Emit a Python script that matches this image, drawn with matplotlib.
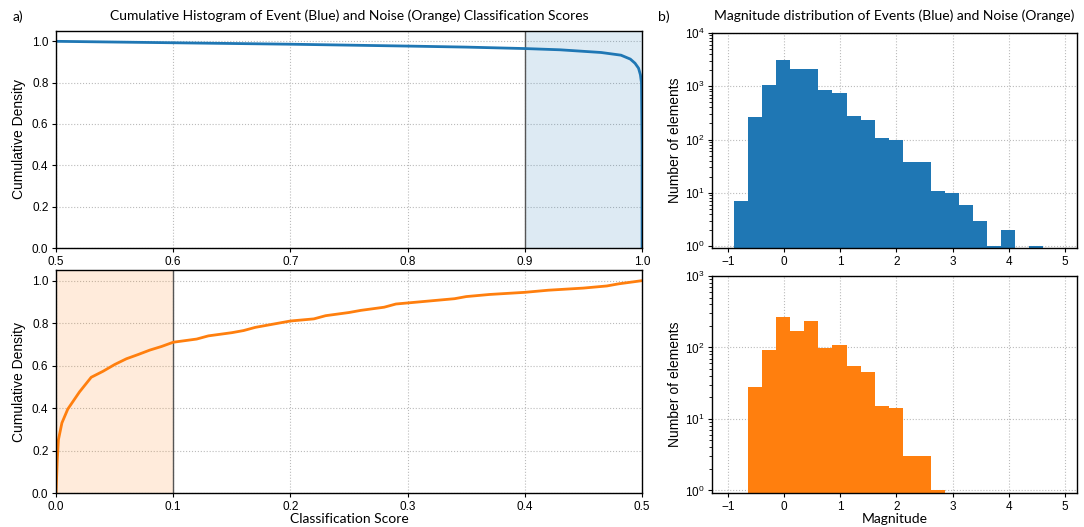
import numpy as np
import matplotlib
matplotlib.use("Agg")
import matplotlib.pyplot as plt

# event scores (reverse cumulative)
event_score = [0.5, 0.6, 0.7, 0.8, 0.85, 0.9, 0.93, 0.965, 0.982, 0.99, 0.994, 0.997, 0.9986, 0.9995, 1.0, 1.0]
event_cum = [1.0, 0.993, 0.986, 0.977, 0.972, 0.965, 0.959, 0.946, 0.933, 0.914, 0.894, 0.870, 0.838, 0.80, 0.5, 0.0]

# noise scores (cumulative)
noise_score = [0.0, 0.001, 0.002, 0.005, 0.01, 0.02, 0.03, 0.04, 0.05, 0.06, 0.07, 0.08, 0.09, 0.1,
               0.12, 0.13, 0.15, 0.16, 0.17, 0.18, 0.19, 0.2, 0.22, 0.23, 0.25, 0.26, 0.28, 0.29, 0.3,
               0.32, 0.34, 0.35, 0.37, 0.4, 0.42, 0.45, 0.47, 0.48, 0.5]
noise_cum = [0.0, 0.15, 0.25, 0.33, 0.395, 0.476, 0.545, 0.573, 0.605, 0.632, 0.652, 0.673, 0.69, 0.71,
             0.725, 0.74, 0.755, 0.765, 0.78, 0.79, 0.80, 0.81, 0.82, 0.835, 0.85, 0.86, 0.875, 0.89, 0.895,
             0.905, 0.915, 0.925, 0.935, 0.945, 0.955, 0.965, 0.975, 0.985, 1.0]

# magnitude histograms (shared bin edges)
bin_edges = [-0.887 + 0.25 * i for i in range(23)]
event_counts = [7, 265, 1045, 3140, 2125, 2125, 855, 750, 277, 233, 107, 99, 38, 38, 11, 10, 6, 3, 1, 2, 0, 1]
noise_counts = [0, 28, 91, 268, 169, 235, 97, 107, 55, 45, 15, 14, 3, 3, 1, 0, 0, 0, 0, 0, 0, 0]

blue = "#1f77b4"
orange = "#ff7f0e"
title_font = ["Lato", "DejaVu Sans"]
plt.rcParams["font.family"] = ["Liberation Sans", "DejaVu Sans"]
plt.rcParams["font.size"] = 8.5


def style(ax):
    ax.grid(True, linestyle=":", color="#bbbbbb", linewidth=0.8)
    ax.set_axisbelow(True)
    for s in ax.spines.values():
        s.set_linewidth(1.0)
    ax.tick_params(direction="out", length=3, width=0.8, labelsize=8.5, pad=2.5)


fig = plt.figure(figsize=(10.84, 5.27), dpi=100)
ax1 = fig.add_axes([0.0517, 0.5294, 0.5406, 0.4118])
ax2 = fig.add_axes([0.0517, 0.0645, 0.5406, 0.4231])
ax3 = fig.add_axes([0.6568, 0.5294, 0.3367, 0.4080])
ax4 = fig.add_axes([0.6568, 0.0645, 0.3367, 0.4118])

# a) top: events
ax1.axvspan(0.9, 1.0, color=blue, alpha=0.15, linewidth=0)
ax1.axvline(0.9, color="#555555", linewidth=1.0)
ax1.plot(event_score, event_cum, color=blue, linewidth=2)
ax1.set_xlim(0.5, 1.0)
ax1.set_ylim(0, 1.05)
ax1.set_ylabel("Cumulative Density", fontsize=10)
ax1.set_title("Cumulative Histogram of Event (Blue) and Noise (Orange) Classification Scores",
              family=title_font, fontsize=10, pad=8)
style(ax1)

# a) bottom: noise
ax2.axvspan(0.0, 0.1, color=orange, alpha=0.15, linewidth=0)
ax2.axvline(0.1, color="#555555", linewidth=1.0)
ax2.plot(noise_score, noise_cum, color=orange, linewidth=2)
ax2.set_xlim(0, 0.5)
ax2.set_ylim(0, 1.05)
ax2.set_ylabel("Cumulative Density", fontsize=10)
ax2.set_xlabel("Classification Score", family=title_font, fontsize=10, labelpad=0.5)
style(ax2)

# b) magnitudes
ax3.stairs(event_counts, bin_edges, fill=True, color=blue)
ax3.set_yscale("log")
ax3.set_ylim(0.92, 1e4)
ax3.set_xlim(-1.28, 5.21)
ax3.set_xticks(range(-1, 6))
ax3.set_ylabel("Number of elements", fontsize=10, labelpad=2)
ax3.set_title("Magnitude distribution of Events (Blue) and Noise (Orange)",
              family=title_font, fontsize=10, pad=9)
style(ax3)

ax4.stairs(noise_counts, bin_edges, fill=True, color=orange)
ax4.set_yscale("log")
ax4.set_ylim(0.92, 1e3)
ax4.set_xlim(-1.28, 5.21)
ax4.set_xticks(range(-1, 6))
ax4.set_ylabel("Number of elements", fontsize=10, labelpad=2)
ax4.set_xlabel("Magnitude", family=title_font, fontsize=10, labelpad=0.5)
style(ax4)

fig.text(0.012, 0.968, "a)", family=title_font, fontsize=10, va="center")
fig.text(0.607, 0.968, "b)", family=title_font, fontsize=10, va="center")

fig.savefig("out.png", dpi=100)
